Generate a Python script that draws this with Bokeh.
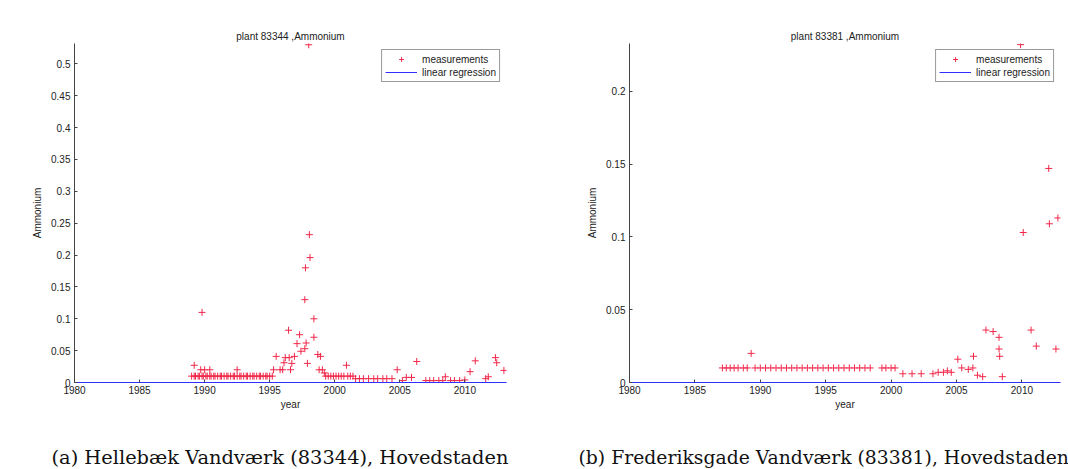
from bokeh.plotting import figure
from bokeh.layouts import row, column
from bokeh.models import Range1d, FixedTicker, NumeralTickFormatter, Label, Legend, LegendItem
from bokeh.embed import file_html
from bokeh.resources import INLINE

# ---------------- data: plant 83344 (Hellebæk) ----------------
years_a = [1989.0, 1989.2, 1989.3, 1989.5, 1989.6, 1989.8, 1989.9, 1990.1, 1990.2, 1990.4,
           1990.5, 1990.7, 1990.8, 1991.0, 1991.2, 1991.3, 1991.5, 1991.7, 1991.8, 1992.0,
           1992.2, 1992.3, 1992.5, 1992.7, 1992.8, 1993.0, 1993.2, 1993.3, 1993.5, 1993.7,
           1993.8, 1994.0, 1994.2, 1994.3, 1994.5, 1994.7, 1994.8, 1995.0, 1995.2,
           1989.2, 1989.7, 1990.0, 1990.4, 1989.8, 1992.5, 1995.3, 1995.5, 1995.8, 1996.0,
           1996.1, 1996.2, 1996.45, 1996.5, 1996.6, 1996.7, 1996.9, 1997.1, 1997.3, 1997.4,
           1997.7, 1997.7, 1997.75, 1997.8, 1997.9, 1998.0, 1998.05, 1998.1, 1998.4, 1998.4,
           1998.7, 1998.9, 1998.8, 1999.05, 1999.2,
           1999.3, 1999.5, 1999.7, 1999.9, 2000.1, 2000.3, 2000.5, 2000.7, 2001.0, 2001.2,
           2001.4, 2000.9,
           2001.6, 2001.9, 2002.2, 2002.6, 2003.0, 2003.3, 2003.7, 2004.0, 2004.4,
           2004.8, 2005.2, 2005.5, 2005.9, 2006.3,
           2007.0, 2007.3, 2007.6, 2008.0, 2008.3, 2008.9, 2009.2, 2009.6, 2008.5, 2010.0,
           2010.4, 2010.8, 2011.6, 2011.8, 2012.35, 2012.45, 2013.0]
ammonium_a = [0.01, 0.01, 0.01, 0.01, 0.01, 0.01, 0.01, 0.01, 0.01, 0.01,
              0.01, 0.01, 0.01, 0.01, 0.01, 0.01, 0.01, 0.01, 0.01, 0.01,
              0.01, 0.01, 0.01, 0.01, 0.01, 0.01, 0.01, 0.01, 0.01, 0.01,
              0.01, 0.01, 0.01, 0.01, 0.01, 0.01, 0.01, 0.01, 0.01,
              0.027, 0.02, 0.02, 0.02, 0.11, 0.02, 0.02, 0.041, 0.02, 0.02,
              0.031, 0.039, 0.082, 0.039, 0.02, 0.03, 0.041, 0.061, 0.075, 0.049,
              0.053, 0.13, 0.18, 0.062, 0.03, 0.53, 0.232, 0.196, 0.10, 0.071,
              0.044, 0.041, 0.02, 0.02, 0.015,
              0.01, 0.01, 0.01, 0.01, 0.01, 0.01, 0.01, 0.01, 0.01, 0.01,
              0.01, 0.027,
              0.006, 0.006, 0.006, 0.006, 0.006, 0.006, 0.006, 0.006, 0.006,
              0.02, 0.003, 0.008, 0.008, 0.033,
              0.003, 0.003, 0.003, 0.003, 0.003, 0.003, 0.003, 0.003, 0.009, 0.004,
              0.017, 0.034, 0.006, 0.009, 0.039, 0.031, 0.019]
reg_years_a = [1980.0, 2013.2]
reg_values_a = [0.0, 0.0]

# ---------------- data: plant 83381 (Frederiksgade) ----------------
years_b = [1987.1, 1987.4, 1987.7, 1988.0, 1988.3, 1988.7, 1989.0, 1989.6, 1990.0, 1990.4,
           1990.8, 1991.2, 1991.6, 1992.0, 1992.4, 1992.8, 1993.2, 1993.6, 1994.0, 1994.4,
           1994.8, 1995.2, 1995.6, 1996.0, 1996.4, 1996.8, 1997.2, 1997.6, 1998.0, 1998.4,
           1999.3, 1999.6, 2000.0, 2000.3, 1989.3,
           2000.9, 2001.6, 2002.3, 2003.2, 2003.6, 2004.0, 2004.3, 2004.6,
           2005.1, 2005.4, 2005.9, 2006.25, 2006.3, 2006.6, 2007.0, 2007.25, 2007.8, 2008.25,
           2008.25, 2008.3, 2008.5, 2009.9, 2010.1, 2010.7, 2011.1, 2012.05, 2012.1, 2012.75,
           2012.6]
ammonium_b = [0.01, 0.01, 0.01, 0.01, 0.01, 0.01, 0.01, 0.01, 0.01, 0.01,
              0.01, 0.01, 0.01, 0.01, 0.01, 0.01, 0.01, 0.01, 0.01, 0.01,
              0.01, 0.01, 0.01, 0.01, 0.01, 0.01, 0.01, 0.01, 0.01, 0.01,
              0.01, 0.01, 0.01, 0.01, 0.02,
              0.006, 0.006, 0.006, 0.006, 0.007, 0.007, 0.008, 0.007,
              0.016, 0.01, 0.009, 0.01, 0.018, 0.005, 0.004, 0.036, 0.035, 0.031,
              0.023, 0.018, 0.004, 0.232, 0.103, 0.036, 0.025, 0.147, 0.109, 0.113,
              0.023]
reg_years_b = [1980.0, 2012.95]
reg_values_b = [0.0, 0.0]

x_ticks = [1980, 1985, 1990, 1995, 2000, 2005, 2010]
y_ticks_a = [0, 0.05, 0.1, 0.15, 0.2, 0.25, 0.3, 0.35, 0.4, 0.45, 0.5]
y_ticks_b = [0, 0.05, 0.1, 0.15, 0.2]

titles = ["plant 83344 ,Ammonium", "plant 83381 ,Ammonium"]
captions = ["(a) Hellebæk Vandværk (83344), Hovedstaden",
            "(b) Frederiksgade Vandværk (83381), Hovedstaden"]

MARK = "#f0284a"
LINE = "#2f2fff"
SANS = "Liberation Sans"


def make_panel(xs, ys, rx, ry, xr, yr, yticks, title, bl, br):
    p = figure(width=534, height=440, output_backend="svg", toolbar_location=None,
               x_range=Range1d(*xr), y_range=Range1d(*yr),
               min_border_left=bl, min_border_right=br, min_border_top=43,
               min_border_bottom=58, outline_line_color=None)
    p.grid.visible = False
    p.background_fill_color = "white"
    p.border_fill_color = "white"
    p.title.text = title
    p.title.align = "center"
    p.title.text_font = SANS
    p.title.text_font_size = "10px"
    p.title.text_font_style = "normal"
    p.title.text_color = "#222222"
    p.title.standoff = 3

    r1 = p.scatter(xs, ys, marker="cross", size=7, line_color=MARK, line_width=1)
    r2 = p.line(rx, ry, line_color=LINE, line_width=1.2)

    for ax in (p.xaxis[0], p.yaxis[0]):
        ax.major_tick_in = 3
        ax.major_tick_out = 0
        ax.minor_tick_line_color = None
        ax.major_label_text_font = SANS
        ax.major_label_text_font_size = "10px"
        ax.major_label_text_color = "#222222"
        ax.axis_label_text_font = SANS
        ax.axis_label_text_font_size = "10px"
        ax.axis_label_text_font_style = "normal"
        ax.axis_label_text_color = "#222222"
        ax.axis_line_color = "#444444"
        ax.major_tick_line_color = "#444444"
    p.xaxis.ticker = FixedTicker(ticks=x_ticks)
    p.yaxis.ticker = FixedTicker(ticks=yticks)
    p.yaxis.formatter = NumeralTickFormatter(format="0.[00]")
    p.xaxis.axis_label = "year"
    p.yaxis.axis_label = "Ammonium"
    p.xaxis.major_label_standoff = 3
    p.yaxis.major_label_standoff = 4
    p.xaxis.axis_label_standoff = 2
    p.yaxis.axis_label_standoff = 5
    p.xaxis.axis_line_color = LINE

    legend = Legend(items=[LegendItem(label="measurements", renderers=[r1]),
                           LegendItem(label="linear regression", renderers=[r2])],
                    location="top_right")
    legend.label_text_font = SANS
    legend.label_text_font_size = "10px"
    legend.label_text_color = "#222222"
    legend.label_height = 12
    legend.glyph_height = 12
    legend.glyph_width = 32
    legend.spacing = 1
    legend.padding = 3
    legend.margin = 6
    legend.label_standoff = 5
    legend.border_line_color = "#333333"
    legend.border_line_width = 0.8
    p.add_layout(legend, "center")
    return p


def make_caption(text, x0, size):
    c = figure(width=534, height=29, output_backend="svg", toolbar_location=None,
               x_range=Range1d(0, 534), y_range=Range1d(0, 29),
               min_border_left=0, min_border_right=0, min_border_top=0, min_border_bottom=0,
               outline_line_color=None)
    c.axis.visible = False
    c.grid.visible = False
    c.add_layout(Label(x=x0, y=12, text=text, text_font="DejaVu Serif",
                       text_font_size=size, text_color="#111111",
                       text_baseline="middle", text_align="left"))
    return c


pa = make_panel(years_a, ammonium_a, reg_years_a, reg_values_a, (1980, 2013.2), (0, 0.532),
                y_ticks_a, titles[0], 74, 28)
pb = make_panel(years_b, ammonium_b, reg_years_b, reg_values_b, (1980, 2012.95), (0, 0.2328),
                y_ticks_b, titles[1], 95, 8)
ca = make_caption(captions[0], 51, "19.4px")
cb = make_caption(captions[1], 44, "18.8px")

layout = column(row(pa, pb), row(ca, cb))
open("out.html", "w").write(file_html(layout, INLINE))
